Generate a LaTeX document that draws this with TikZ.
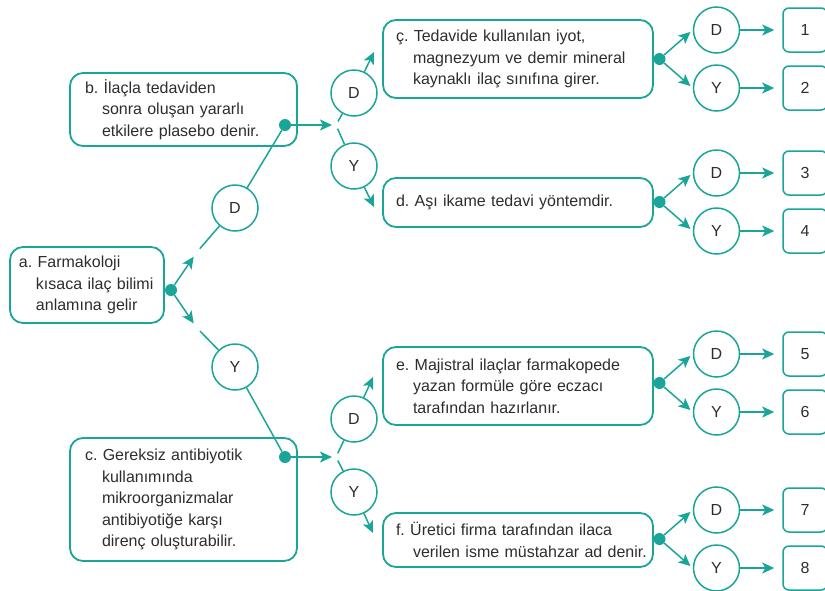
\documentclass[tikz,border=0pt]{standalone}
\usepackage{fontspec}
\setmainfont{Liberation Sans}
\usepackage{tikz}
\usepackage{xcolor}
\usetikzlibrary{calc}
\usetikzlibrary{arrows.meta}

\definecolor{turkuaz}{RGB}{25,165,152}
\definecolor{yazi}{RGB}{45,45,45}

\tikzset{
  kutu/.style={draw=turkuaz, line width=1.8pt, rounded corners=13pt, align=left, text=yazi, inner xsep=13pt, inner ysep=0pt},
  cember/.style={circle, draw=turkuaz, line width=1.5pt, fill=white, minimum size=46pt, inner sep=0pt, text=yazi},
  sayi/.style={draw=turkuaz, line width=1.5pt, rounded corners=6pt, minimum width=44pt, minimum height=44pt, inner sep=0pt, text=yazi},
  nokta/.style={circle, fill=turkuaz, minimum size=12pt, inner sep=0pt},
  hat/.style={draw=turkuaz, line width=1.5pt},
  ok/.style={hat, -{Stealth[length=12pt,width=11pt,inset=3pt]}},
}
\newcommand{\devam}[1]{\mbox{\hspace*{17pt}#1}}
\frenchspacing

\begin{document}
\begin{tikzpicture}[x=1pt,y=-1pt,font=\fontsize{16}{21.5}\selectfont]
\useasboundingbox (0,0) rectangle (825,590);

% sorular
\node[kutu, inner xsep=9pt, text width=136pt, minimum height=76pt] (a) at (87,285) {a. Farmakoloji\\ \devam{kısaca ilaç bilimi}\\ \devam{anlamına gelir}};
\node[kutu, inner xsep=15pt, text width=197pt, minimum height=73pt] (b) at (183.5,109.5) {b. İlaçla tedaviden\\ \devam{sonra oluşan yararlı}\\ \devam{etkilere plasebo denir.}};
\node[kutu, inner xsep=15pt, text width=197pt, minimum height=123pt] (c) at (183.5,499.5) {c. Gereksiz antibiyotik\\ \devam{kullanımında}\\ \devam{mikroorganizmalar}\\ \devam{antibiyotiğe karşı}\\ \devam{direnç oluşturabilir.}};
\node[kutu, text width=244pt, minimum height=78pt] (cc) at (518,59) {ç. Tedavide kullanılan iyot,\\ \devam{magnezyum ve demir mineral}\\ \devam{kaynaklı ilaç sınıfına girer.}};
\node[kutu, text width=244pt, minimum height=49pt] (d) at (518,202.5) {d. Aşı ikame tedavi yöntemdir.};
\node[kutu, text width=244pt, minimum height=78pt] (e) at (518,386) {e. Majistral ilaçlar farmakopede\\ \devam{yazan formüle göre eczacı}\\ \devam{tarafından hazırlanır.}};
\node[kutu, text width=244pt, minimum height=54pt] (f) at (518,540) {f. Üretici firma tarafından ilaca\\ \devam{verilen isme müstahzar ad denir.}};

% ilk dallar
\node[nokta] (na) at (171,290) {};
\node[nokta] (nb) at (285,125) {};
\node[nokta] (nc) at (285,457) {};
\node[cember] (Da) at (235,208) {D};
\node[cember] (Ya) at (235,367) {Y};
\node[cember] (Db) at (354,93) {D};
\node[cember] (Yb) at (354,166) {Y};
\node[cember] (Dc) at (354,419) {D};
\node[cember] (Yc) at (354,492) {Y};

\coordinate (ja1) at (196.5,252.5);
\coordinate (ja2) at (196.5,327.5);
\coordinate (jb) at (336,125);
\coordinate (jc) at (336,457);
\coordinate (ub) at (374,52);
\coordinate (ab) at (374,207);
\coordinate (uc) at (373,377);
\coordinate (ac) at (373,533);

\draw[ok, shorten >=5pt] (na) -- (ja1);
\draw[hat, shorten <=5pt] (ja1) -- (Da);
\draw[hat] (Da) -- (nb);
\draw[ok, shorten >=5pt] (na) -- (ja2);
\draw[hat, shorten <=5pt] (ja2) -- (Ya);
\draw[hat] (Ya) -- (nc);

\draw[ok, shorten >=4pt] (nb) -- (jb);
\draw[hat, shorten <=4pt] (jb) -- (Db);
\draw[hat, shorten <=4pt] (jb) -- (Yb);
\draw[ok] (Db) -- (ub);
\draw[ok] (Yb) -- (ab);

\draw[ok, shorten >=4pt] (nc) -- (jc);
\draw[hat, shorten <=4pt] (jc) -- (Dc);
\draw[hat, shorten <=4pt] (jc) -- (Yc);
\draw[ok] (Dc) -- (uc);
\draw[ok] (Yc) -- (ac);

% son dallar
\foreach \sira/\y in {1/59,2/202,3/383,4/539}{
  \pgfmathtruncatemacro{\ustsayi}{2*\sira-1}
  \pgfmathtruncatemacro{\altsayi}{2*\sira}
  \node[nokta] (m\sira) at (659.5,\y) {};
  \node[cember] (D\sira) at (716.5,\y-29) {D};
  \node[cember] (Y\sira) at (716.5,\y+29) {Y};
  \node[sayi] (s\ustsayi) at (805,\y-29) {\ustsayi};
  \node[sayi] (s\altsayi) at (805,\y+29) {\altsayi};
  \draw[ok, shorten >=3pt] (m\sira) -- (D\sira.west);
  \draw[ok, shorten >=3pt] (m\sira) -- (Y\sira.west);
  \draw[ok, shorten >=8pt] (D\sira) -- (s\ustsayi);
  \draw[ok, shorten >=8pt] (Y\sira) -- (s\altsayi);
}

\end{tikzpicture}
\end{document}
